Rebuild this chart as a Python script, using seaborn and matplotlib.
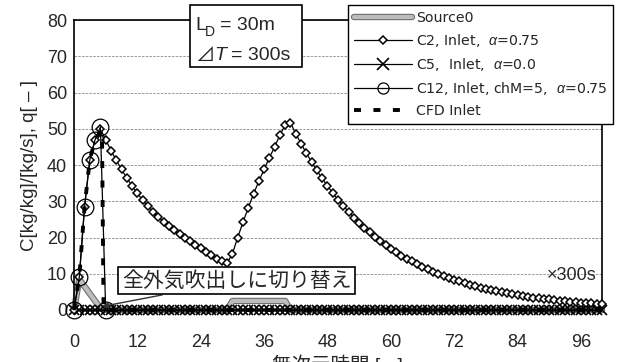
import numpy as np
import pandas as pd
import matplotlib
matplotlib.use("Agg")
import matplotlib.pyplot as plt
import matplotlib.patheffects as pe
from matplotlib.patches import Rectangle
import seaborn as sns

# ---------------- data (time in units of 300 s) ----------------
src_x = [0, 1, 5, 6, 29, 30, 40, 41, 100]
src_y = [0, 8.5, 0.5, 0, 0, 2.5, 2.5, 0, 0]

c2_x = list(range(0, 101))
c2_y = [0, 9, 28.5, 41.5, 47, 50.0,
        47.0, 44.0, 41.3, 38.8, 36.4, 34.2, 32.2, 30.3, 28.6, 27.0,
        25.6, 24.3, 23.1, 22.0, 21.0, 20.0, 19.0, 18.0, 17.0, 16.0,
        15.1, 14.2, 13.5, 13.0,
        15.5, 20.0, 24.2, 28.2, 32.0, 35.5, 38.8, 42.0, 45.0, 48.3, 51.0, 51.7,
        48.6, 45.9, 43.3, 40.8, 38.5, 36.3, 34.2, 32.3, 30.4,
        28.7, 27.1, 25.5, 24.1, 22.7, 21.4, 20.2, 19.0, 17.9, 16.9,
        15.9, 15.0, 14.2, 13.4, 12.6, 11.9, 11.2, 10.6, 9.9, 9.4,
        8.8, 8.3, 7.9, 7.4, 7.0, 6.6, 6.2, 5.9, 5.5, 5.2,
        4.9, 4.6, 4.4, 4.1, 3.9, 3.7, 3.4, 3.3, 3.1, 2.9,
        2.7, 2.6, 2.4, 2.3, 2.2, 2.0, 1.9, 1.8, 1.7, 1.6]

c5_x = list(range(0, 101))
c5_y = [0] * 101

c12_x = [0, 1, 2, 3, 4, 5, 6]
c12_y = [0, 9, 28.5, 41.5, 47, 50.5, 0]

cfd_x = [0, 1, 2, 3, 4, 5.3, 5.6, 100]
cfd_y = [0, 9, 28.5, 41.5, 47, 49.5, 0, 0]

x_ticks = [0, 12, 24, 36, 48, 60, 72, 84, 96]
y_ticks = [0, 10, 20, 30, 40, 50, 60, 70, 80]

labels = ["Source0", "C2, Inlet,  $\\alpha$=0.75", "C5,  Inlet,  $\\alpha$=0.0",
          "C12, Inlet, chM=5,  $\\alpha$=0.75", "CFD Inlet"]

# ---------------- style ----------------
sns.set_style("white")
plt.rcParams["font.family"] = ["Liberation Sans", "Noto Sans CJK JP", "DejaVu Sans"]
plt.rcParams["mathtext.fontset"] = "custom"
plt.rcParams["mathtext.rm"] = "Liberation Sans"
plt.rcParams["mathtext.it"] = "Liberation Sans:italic"

W, H = 620, 362
fig = plt.figure(figsize=(W / 100, H / 100), dpi=100)
ax = fig.add_axes([74 / W, 1 - 310 / H, (602 - 74) / W, 290 / H])

def fx(px):
    return px / W

def fy(py):
    return 1 - py / H

df_src = pd.DataFrame({"x": src_x, "y": src_y})
df_c2 = pd.DataFrame({"x": c2_x, "y": c2_y})
df_c5 = pd.DataFrame({"x": c5_x, "y": c5_y})
df_c12 = pd.DataFrame({"x": c12_x, "y": c12_y})
df_cfd = pd.DataFrame({"x": cfd_x, "y": cfd_y})

sns.lineplot(data=df_src, x="x", y="y", ax=ax, estimator=None, sort=False,
             color="#bdbdbd", lw=3.0, label=labels[0], clip_on=False, zorder=2,
             path_effects=[pe.Stroke(linewidth=4.6, foreground="#6e6e6e"), pe.Normal()])
sns.lineplot(data=df_c2, x="x", y="y", ax=ax, estimator=None, sort=False,
             color="black", lw=0.9, marker="D", markersize=3.8,
             markerfacecolor="white", markeredgecolor="black", markeredgewidth=1.1,
             label=labels[1], clip_on=False, zorder=4)
sns.lineplot(data=df_c5, x="x", y="y", ax=ax, estimator=None, sort=False,
             color="black", lw=0.9, marker="x", markersize=6.5,
             markeredgecolor="black", markeredgewidth=1.2,
             label=labels[2], clip_on=False, zorder=3)
sns.lineplot(data=df_c12, x="x", y="y", ax=ax, estimator=None, sort=False,
             color="black", lw=0.9, marker="o", markersize=12,
             markerfacecolor="none", markeredgecolor="black", markeredgewidth=0.9,
             label=labels[3], clip_on=False, zorder=5)
sns.lineplot(data=df_cfd, x="x", y="y", ax=ax, estimator=None, sort=False,
             color="black", lw=2.8, linestyle=(0, (1.8, 3.2)),
             label=labels[4], clip_on=False, zorder=6)

ax.set_xlim(0, 100)
ax.set_ylim(0, 80)
ax.set_xticks(x_ticks)
ax.set_yticks(y_ticks)
ax.tick_params(axis="x", length=0, pad=17, labelsize=13)
ax.tick_params(axis="y", length=0, pad=5, labelsize=13)
ax.set_xlabel("")
ax.set_ylabel("C[kg/kg]/[kg/s], q[ – ]", fontsize=13.5, labelpad=6)

ax.yaxis.grid(True, color="#8a8a8a", lw=0.6, linestyle=(0, (3, 1.5)))
ax.set_axisbelow(True)
for s in ["left", "right", "top", "bottom"]:
    ax.spines[s].set_visible(True)
    ax.spines[s].set_color("black")
    ax.spines[s].set_linewidth(1.2)

leg = ax.legend(loc="upper right", bbox_to_anchor=(1.021, 1.052), borderaxespad=0,
                prop={"family": ["DejaVu Sans"], "size": 10.2},
                handlelength=4.1, handletextpad=0.3, labelspacing=0.5,
                frameon=True, fancybox=False, edgecolor="black", framealpha=1,
                borderpad=0.4)
leg.get_frame().set_linewidth(1.0)
leg.set_zorder(10)
leg_sizes = [None, 4.0, 9.0, 8.0, None]
for h, ms in zip(leg.legend_handles, leg_sizes):
    if ms is not None:
        h.set_markersize(ms)

# parameter box (drawn in figure pixel positions)
fig.add_artist(Rectangle((fx(190), fy(67)), 112 / W, 62 / H, transform=fig.transFigure,
                         facecolor="white", edgecolor="black", lw=1.2, zorder=5))
fig.text(fx(195), fy(26), "L", fontsize=14, ha="left", va="center", zorder=6)
fig.text(fx(204.5), fy(32), "D", fontsize=10, ha="left", va="center", zorder=6)
fig.text(fx(220), fy(26), "= 30m", fontsize=14, ha="left", va="center", zorder=6)
fig.text(fx(195), fy(55), "⊿", fontsize=14, ha="left", va="center", zorder=6,
         family=["Noto Sans CJK JP", "DejaVu Sans"])
fig.text(fx(214), fy(55), "T", fontsize=14, ha="left", va="center", zorder=6,
         style="italic")
fig.text(fx(231), fy(55), "= 300s", fontsize=14, ha="left", va="center", zorder=6)

ax.annotate("全外気吹出しに切り替え", xy=(5.4, 1.0), xytext=(30.8, 8.1),
            ha="center", va="center", fontsize=15, zorder=10,
            bbox=dict(boxstyle="square,pad=0.18", fc="white", ec="black", lw=1.2),
            arrowprops=dict(arrowstyle="-|>", color="#333333", lw=1.0,
                            shrinkA=0, shrinkB=0, mutation_scale=8))

ax.text(99, 9.6, "×300s", ha="right", va="center", fontsize=13, zorder=10)

fig.text(0.545, fy(355), "無次元時間 [ - ]", ha="center", va="top", fontsize=14)

fig.savefig("out.png", dpi=100)
